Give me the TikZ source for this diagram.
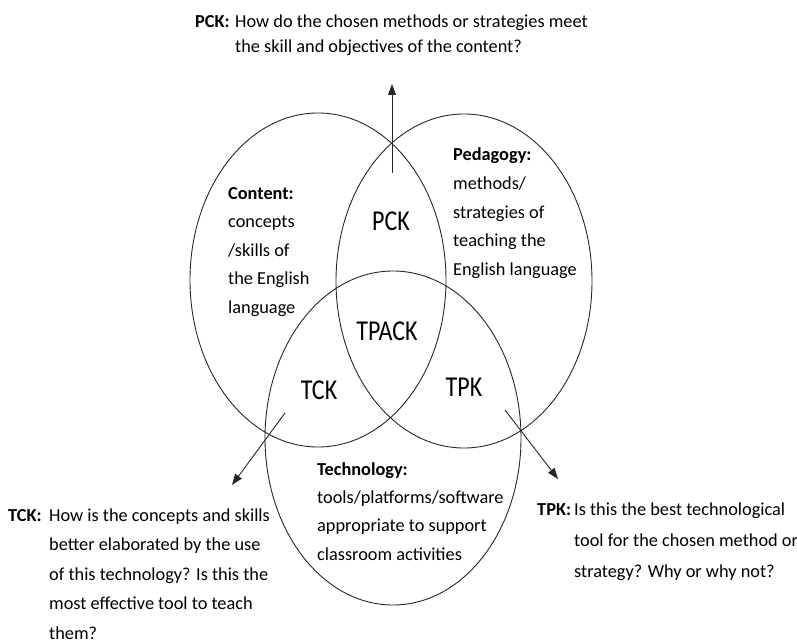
\documentclass[tikz,border=0pt]{standalone}
\usepackage{fontspec}
\setmainfont{Carlito}
\usetikzlibrary{shapes.geometric,arrows.meta}
\begin{document}
\begin{tikzpicture}[x=1pt,y=-1pt,
  circ/.style={draw=black!85,line width=0.9pt,ellipse,minimum width=256pt,minimum height=334pt,inner sep=0pt},
  body/.style={font=\fontsize{18.3}{28.5}\selectfont,align=left,anchor=base west,inner sep=0pt},
  tag/.style={font=\fontsize{18.3}{28.5}\selectfont\bfseries,anchor=base west,inner sep=0pt},
  region/.style={font=\fontsize{24}{24}\selectfont,inner sep=0pt},
  arr/.style={draw=black!85,line width=0.9pt,-{Triangle[length=11pt,width=8pt]}}]
\useasboundingbox (0,0) rectangle (797,644);
% circles
\node[circ] (C) at (318,280) {};
\node[circ] (P) at (464,281) {};
\node[circ] (T) at (393,438) {};
% region labels
\node[region] (pck) at (391,221) {\scalebox{1}[1.2]{PCK}};
\node[region] (tpack) at (387,331) {\scalebox{1}[1.2]{TPACK}};
\node[region] (tck) at (319,390) {\scalebox{1}[1.2]{TCK}};
\node[region] (tpk) at (464,387) {\scalebox{1}[1.2]{TPK}};
% circle texts (anchor = baseline of last line)
\node[body] (ctext) at (228,313) {\textbf{Content:}\\concepts\\/skills of\\the English\\language};
\node[body] (ptext) at (453,275) {\textbf{Pedagogy:}\\methods/\\strategies of\\teaching the\\English language};
\node[body,font=\fontsize{18.3}{28.3}\selectfont] (ttext) at (317,560) {\textbf{Technology:}\\tools/platforms/software\\appropriate to support\\classroom activities};
% questions
\node[tag] (pcktag) at (195,28) {PCK:};
\node[body,font=\fontsize{18.3}{25}\selectfont] (pckq) at (235,53) {How do the chosen methods or strategies meet\\the skill and objectives of the content?};
\node[tag] (tcktag) at (8,521) {TCK:};
\node[body,font=\fontsize{18.3}{29.5}\selectfont] (tckq) at (49,639) {How is the concepts and skills\\better elaborated by the use\\of this technology? Is this the\\most effective tool to teach\\them?};
\node[tag] (tpktag) at (537,515) {TPK:};
\node[body,font=\fontsize{18.3}{31}\selectfont] (tpkq) at (574,577) {Is this the best technological\\tool for the chosen method or\\strategy? Why or why not?};
% arrows
\coordinate (a1s) at (392,173);
\coordinate (a1e) at (392,84);
\coordinate (a2s) at (285,413);
\coordinate (a2e) at (232,485);
\coordinate (a3s) at (505,410);
\coordinate (a3e) at (558,479);
\draw[arr] (a1s) -- (a1e);
\draw[arr] (a2s) -- (a2e);
\draw[arr] (a3s) -- (a3e);
\end{tikzpicture}
\end{document}
